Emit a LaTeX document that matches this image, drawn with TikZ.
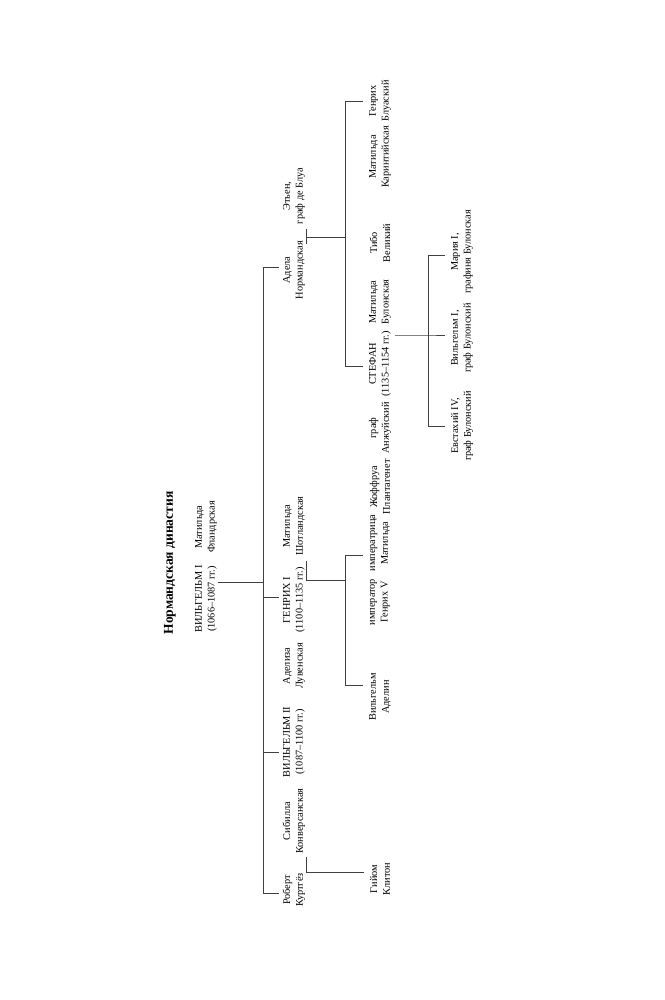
\documentclass[tikz,border=0pt]{standalone}
\usepackage{fontspec}
\setmainfont{Liberation Serif}
\begin{document}
\begin{tikzpicture}[x=1pt,y=-1pt,
  nm/.style={rotate=90, align=center, inner sep=0pt, font=\fontsize{10.3}{12.8}\selectfont},
  ttl/.style={rotate=90, inner sep=0pt, font=\fontsize{13.5}{15}\selectfont\bfseries},
  ln/.style={line width=0.6pt, draw=black!75}]
\useasboundingbox (0,0) rectangle (664,1000);
% title
\node[ttl] (title) at (170,563) {Нормандская династия};
% generation 1
\node[nm] (matf) at (206,527) {Матильда\\Фландрская};
\node[nm] (wil1) at (206,599) {ВИЛЬГЕЛЬМ I\\(1066–1087 гг.)};
% generation 2
\node[nm] (etien) at (294,196) {Этьен,\\граф де Блуа};
\node[nm] (adela) at (294,270) {Адела\\Нормандская};
\node[nm] (mats) at (294,526) {Матильда\\Шотландская};
\node[nm] (hen1) at (294,600) {ГЕНРИХ I\\(1100–1135 гг.)};
\node[nm] (adel) at (294,666) {Аделиза\\Лувенская};
\node[nm] (wil2) at (294,742) {ВИЛЬГЕЛЬМ II\\(1087–1100 гг.)};
\node[nm] (sib) at (294,821) {Сибилла\\Конверсанская};
\node[nm] (rob) at (294,890) {Роберт\\Куртгёз};
% generation 3
\node[nm] (henb) at (380,101) {Генрих\\Блуаский};
\node[nm] (matk) at (380,157) {Матильда\\Каринтийская};
\node[nm] (tibo) at (380,243) {Тибо\\Великий};
\node[nm] (matb) at (380,302) {Матильда\\Булонская};
\node[nm] (stef) at (380,364) {СТЕФАН\\(1135–1154 гг.)};
\node[nm] (anj) at (380,428) {граф\\Анжуйский};
\node[nm] (jof) at (380,487) {Жоффруа\\Плантагенет};
\node[nm] (imps) at (380,543) {императрица\\Матильда};
\node[nm] (imp) at (380,602) {император\\Генрих V};
\node[nm] (wad) at (380,697) {Вильгельм\\Аделин};
\node[nm] (giy) at (380,879) {Гийом\\Клитон};
% generation 4
\node[nm] (mar) at (462,252) {Мария I,\\графиня Булонская};
\node[nm] (wbu) at (462,338) {Вильгельм I,\\граф Булонский};
\node[nm] (eus) at (462,426) {Евстахий IV,\\граф Булонский};
% junction points
\coordinate (m1) at (218,582);
\coordinate (tm) at (263,582);
\coordinate (tt) at (263,267);
\coordinate (tb) at (263,893);
\coordinate (sA) at (279,267);
\coordinate (tH) at (263,597);
\coordinate (sH) at (279,597);
\coordinate (tW) at (263,752);
\coordinate (sW) at (279,752);
\coordinate (sR) at (279,893);
% marriage bars
\coordinate (bRa) at (306,857);
\coordinate (bR) at (306,872);
\coordinate (gR) at (364,872);
\coordinate (bHa) at (306,561);
\coordinate (bH) at (306,580);
\coordinate (cH) at (345,580);
\coordinate (bAa) at (306,229);
\coordinate (bAb) at (306,244);
\coordinate (bA) at (306,237);
\coordinate (cA) at (345,237);
\coordinate (bS) at (395,335);
\coordinate (cS) at (428,335);
% children bars
\coordinate (hT) at (345,555);
\coordinate (hTs) at (363,555);
\coordinate (hB) at (345,685);
\coordinate (hBs) at (363,685);
\coordinate (aT) at (345,101);
\coordinate (aTs) at (363,101);
\coordinate (aB) at (345,366);
\coordinate (aBs) at (363,366);
\coordinate (sT) at (428,255);
\coordinate (sTs) at (445,255);
\coordinate (sB) at (428,426);
\coordinate (sBs) at (445,426);
\coordinate (sMs) at (445,335);
% lines
\draw[ln] (m1) -- (tm);
\draw[ln] (sA) -- (tt) -- (tb) -- (sR);
\draw[ln] (tH) -- (sH);
\draw[ln] (tW) -- (sW);
\draw[ln] (bRa) -- (bR) -- (gR);
\draw[ln] (bHa) -- (bH) -- (cH);
\draw[ln] (hTs) -- (hT) -- (hB) -- (hBs);
\draw[ln] (bAa) -- (bAb);
\draw[ln] (bA) -- (cA);
\draw[ln] (aTs) -- (aT) -- (aB) -- (aBs);
\draw[ln] (bS) -- (cS) -- (sMs);
\draw[ln] (sTs) -- (sT) -- (sB) -- (sBs);
\end{tikzpicture}
\end{document}
